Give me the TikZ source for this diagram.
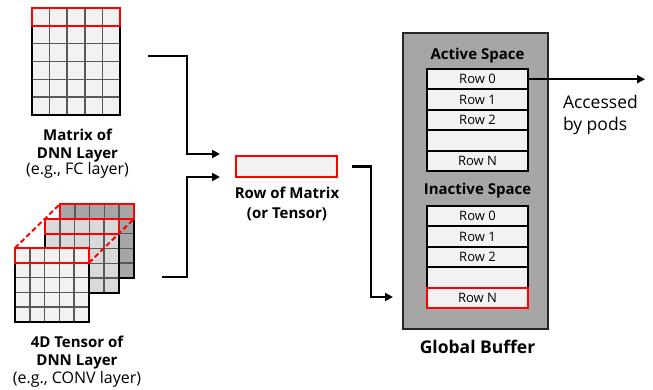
\documentclass[tikz,border=0pt]{standalone}
\usepackage{fontspec}
\setmainfont{Open Sans}
\usetikzlibrary{arrows.meta,calc}
\definecolor{cellfill}{HTML}{F2F2F2}
\definecolor{midfill}{HTML}{D9D9D9}
\definecolor{backfill}{HTML}{A6A6A6}
\definecolor{bufgray}{HTML}{A6A6A6}
\definecolor{hired}{HTML}{FF0000}

\begin{document}
\begin{tikzpicture}[x=1pt,y=-1pt,
  every node/.style={outer sep=0pt},
  gridline/.style={line width=1.6pt, draw=black!65},
  frame/.style={line width=2pt, draw=black},
  redrow/.style={line width=2pt, draw=hired},
  blockbox/.style={inner sep=0pt, anchor=north west},
  arr/.style={line width=2.4pt, -{Triangle[length=8pt,width=8pt]}},
  rowcell/.style={draw=black, line width=2pt, fill=cellfill, minimum width=101pt,
    minimum height=20.4pt, inner sep=0pt, font=\fontsize{13}{15}\selectfont},
  boldlabel/.style={font=\bfseries\fontsize{15}{18}\selectfont, align=center, inner sep=0pt, anchor=north},
  head/.style={font=\bfseries\fontsize{15}{18}\selectfont, inner sep=0pt, anchor=base},
]
\useasboundingbox (0,0) rectangle (653,390);

% ---- weight matrix (5 x 6 cells) ----
\node[blockbox, fill=cellfill, minimum width=88pt, minimum height=107pt] (mat) at (32,8) {};
\foreach \i in {1,...,4}
  \draw[gridline] ($(mat.north west)+(\i*17.6,0)$) -- ++(0,107);
\foreach \j in {1,...,5}
  \draw[gridline] ($(mat.north west)+(0,\j*17.833)$) -- ++(88,0);
\draw[frame] (mat.north west) rectangle (mat.south east);
\draw[redrow] (mat.north west) rectangle ++(88,17.833);

\node[boldlabel] (matlbl) at (77.5,128.6)
  {Matrix of\\DNN Layer\\[-2pt]\mdseries\fontsize{16}{18}\selectfont (e.g., FC layer)};

% ---- 4D tensor: three stacked 5 x 5 slices ----
\foreach \x/\y/\c/\n in {60/204/backfill/tback, 45/219/midfill/tmid, 15/248/cellfill/tfront} {
  \node[blockbox, fill=\c, minimum width=74pt, minimum height=74pt] (\n) at (\x,\y) {};
  \foreach \k in {1,...,4} {
    \draw[gridline] ($(\n.north west)+(\k*14.8,0)$) -- ++(0,74);
    \draw[gridline] ($(\n.north west)+(0,\k*14.8)$) -- ++(74,0);
  }
  \draw[frame] (\n.north west) rectangle (\n.south east);
  \draw[redrow] (\n.north west) rectangle ++(74,14.8);
}
\draw[redrow, dash pattern=on 5pt off 3pt] (tfront.north west) -- (tback.north west);
\draw[redrow, dash pattern=on 5pt off 3pt] ($(tfront.north east)+(0,14.8)$) -- ($(tback.north east)+(0,14.8)$);

\node[boldlabel] (tenlbl) at (77,336.3)
  {4D Tensor of\\DNN Layer\\[-0.7pt]\mdseries\fontsize{16}{19}\selectfont (e.g., CONV layer)};

% ---- extracted row ----
\node[draw=hired, line width=2pt, fill=cellfill, minimum width=101pt, minimum height=21pt,
  inner sep=0pt] (rowbox) at (286.5,166.5) {};
\node[boldlabel, font=\bfseries\fontsize{15}{20}\selectfont] (rowlbl) at (287,186.6)
  {Row of Matrix\\(or Tensor)};

% ---- connectors into and out of the row ----
\coordinate (fromMat) at (148,56);
\coordinate (intoRowA) at (220,154);
\coordinate (fromTen) at (162,277);
\coordinate (intoRowB) at (220,177);
\coordinate (intoBuf) at (393,297);
\draw[arr] (fromMat) -| ([xshift=-33pt]intoRowA) -- (intoRowA);
\draw[arr] (fromTen) -| ([xshift=-33pt]intoRowB) -- (intoRowB);
\draw[arr] ([xshift=15pt]rowbox.east) -| ([xshift=-22pt]intoBuf) -- (intoBuf);

% ---- global buffer ----
\node[blockbox, draw=black!85, line width=2pt, fill=bufgray, minimum width=145pt,
  minimum height=296pt] (buf) at (403,33) {};

\node[head] (actlbl) at (477.5,60) {Active Space};
\node[rowcell, anchor=north west] (a0) at (427,69) {Row 0};
\node[rowcell, anchor=north] (a1) at (a0.south) {Row 1};
\node[rowcell, anchor=north] (a2) at (a1.south) {Row 2};
\node[rowcell, anchor=north] (a3) at (a2.south) {};
\node[rowcell, anchor=north] (aN) at (a3.south) {Row N};

\node[head] (inactlbl) at (477.5,195) {Inactive Space};
\node[rowcell, anchor=north west] (i0) at (427,206) {Row 0};
\node[rowcell, anchor=north] (i1) at (i0.south) {Row 1};
\node[rowcell, anchor=north] (i2) at (i1.south) {Row 2};
\node[rowcell, anchor=north] (i3) at (i2.south) {};
\node[rowcell, anchor=north, draw=hired] (iN) at (i3.south) {Row N};

\node[head, font=\bfseries\fontsize{17.5}{20}\selectfont] (buflbl) at (477.5,353) {Global Buffer};

% ---- read-out to the pods ----
\coordinate (pods) at (645,79.2);
\draw[arr] (a0.east) -- (pods);
\node[inner sep=0pt, anchor=north west, align=left, font=\fontsize{17.5}{22}\selectfont]
  (acclbl) at (563,95.7) {Accessed\\by pods};
\end{tikzpicture}
\end{document}
